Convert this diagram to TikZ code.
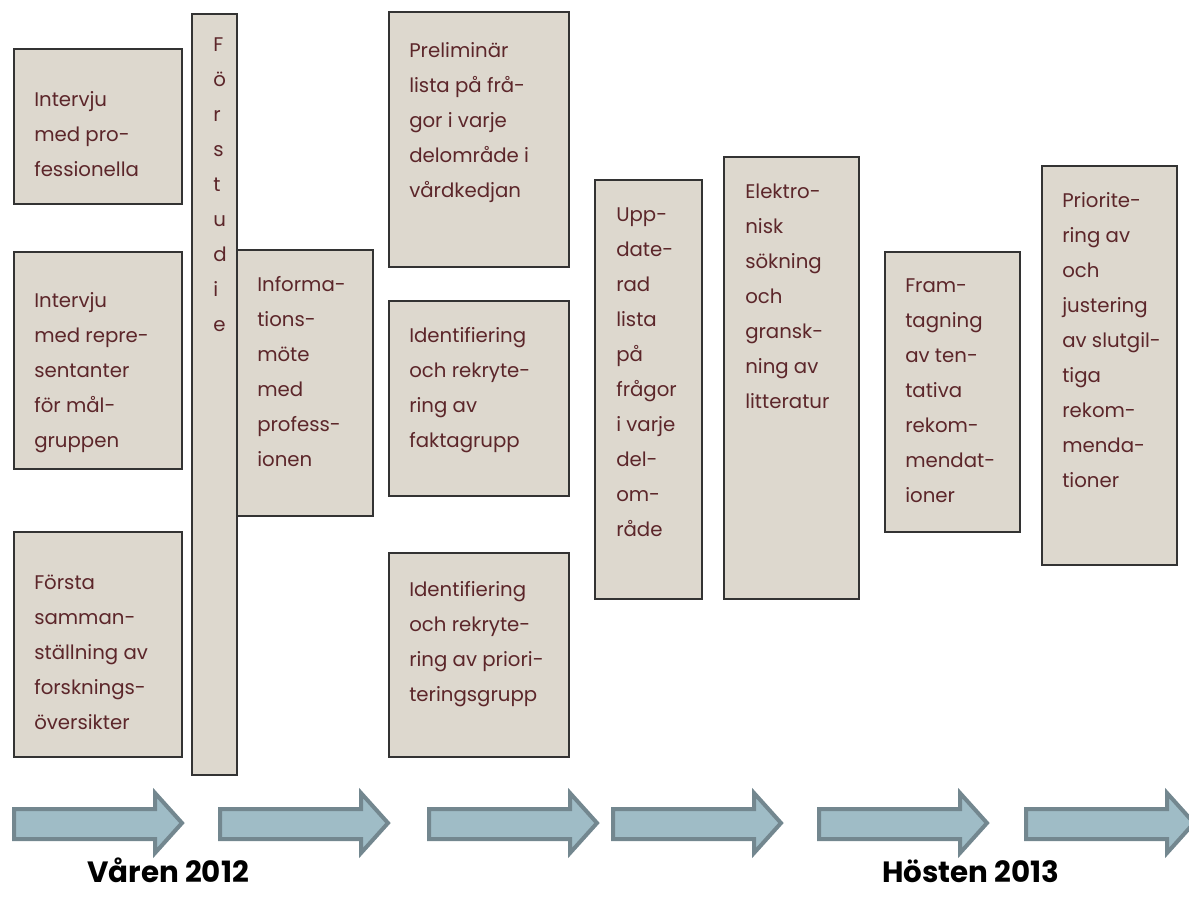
\documentclass[tikz,border=0pt]{standalone}
\usepackage{fontspec}
\setmainfont{Poppins}
\definecolor{boxfill}{RGB}{221,216,206}
\definecolor{boxtext}{RGB}{92,38,42}
\definecolor{arrfill}{RGB}{159,188,198}
\definecolor{arrline}{RGB}{115,135,143}
\newcommand{\firststrut}{\rule{0pt}{15pt}}
\begin{document}
\begin{tikzpicture}[x=0.75pt,y=-0.75pt,
    stage/.style={draw=black!80,line width=1.1pt,fill=boxfill},
    stagetext/.style={anchor=north west,inner sep=0pt,align=left,text=boxtext,
      font=\fontsize{14.8}{26.25}\selectfont},
    flowarrow/.style={draw=arrline,fill=arrfill,line width=3pt,line join=miter},
    period/.style={anchor=base west,inner sep=0pt,font=\fontsize{22}{26}\selectfont\bfseries}]
    \useasboundingbox (0,0) rectangle (1189,897);
    % first column
    \draw[stage] (14,49) rectangle (182,204);
    \node[stagetext] (intprof) at (34,86) {\firststrut Intervju\\med pro-\\fessionella};
    \draw[stage] (14,252) rectangle (182,469);
    \node[stagetext] (intgrp) at (34,287) {\firststrut Intervju\\med repre-\\sentanter\\för mål-\\gruppen};
    \draw[stage] (14,532) rectangle (182,757);
    \node[stagetext] (forsta) at (34,569) {\firststrut Första\\samman-\\ställning av\\forsknings-\\översikter};
    \draw[stage] (192,14) rectangle (237,775);
    \node[stagetext] (forstudie) at (213,31) {\firststrut F\\ö\\r\\s\\t\\u\\d\\i\\e};
    \draw[stage] (237,250) rectangle (373,516);
    \node[stagetext] (infomote) at (257,271) {\firststrut Informa-\\tions-\\möte\\med\\profess-\\ionen};
    % second column
    \draw[stage] (389,12) rectangle (569,267);
    \node[stagetext] (prelim) at (409,37) {\firststrut Preliminär\\lista på frå-\\gor i varje\\delområde i\\vårdkedjan};
    \draw[stage] (389,301) rectangle (569,496);
    \node[stagetext] (fakta) at (409,322) {\firststrut Identifiering\\och rekryte-\\ring av\\faktagrupp};
    \draw[stage] (389,553) rectangle (569,757);
    \node[stagetext] (prio) at (409,576) {\firststrut Identifiering\\och rekryte-\\ring av priori-\\teringsgrupp};
    % later stages
    \draw[stage] (595,180) rectangle (702,599);
    \node[stagetext] (uppdat) at (616,201) {\firststrut Upp-\\date-\\rad\\lista\\på\\frågor\\i varje\\del-\\om-\\råde};
    \draw[stage] (724,157) rectangle (859,599);
    \node[stagetext] (elektro) at (745,178) {\firststrut Elektro-\\nisk\\sökning\\och\\gransk-\\ning av\\litteratur};
    \draw[stage] (885,252) rectangle (1020,532);
    \node[stagetext] (framtag) at (905,272) {\firststrut Fram-\\tagning\\av ten-\\tativa\\rekom-\\mendat-\\ioner};
    \draw[stage] (1042,166) rectangle (1177,565);
    \node[stagetext] (justering) at (1062,187) {\firststrut Priorite-\\ring av\\och\\justering\\av slutgil-\\tiga\\rekom-\\menda-\\tioner};
    % time line
    \foreach \ax in {12,218,427,611,817,1024}
        \draw[flowarrow] (\ax+2,809) -- (\ax+143,809) -- (\ax+143,793) -- (\ax+170,823)
            -- (\ax+143,853) -- (\ax+143,839) -- (\ax+2,839) -- cycle;
    \node[period] (var) at (87,882) {Våren 2012};
    \node[period] (host) at (882,882) {Hösten 2013};
\end{tikzpicture}
\end{document}
